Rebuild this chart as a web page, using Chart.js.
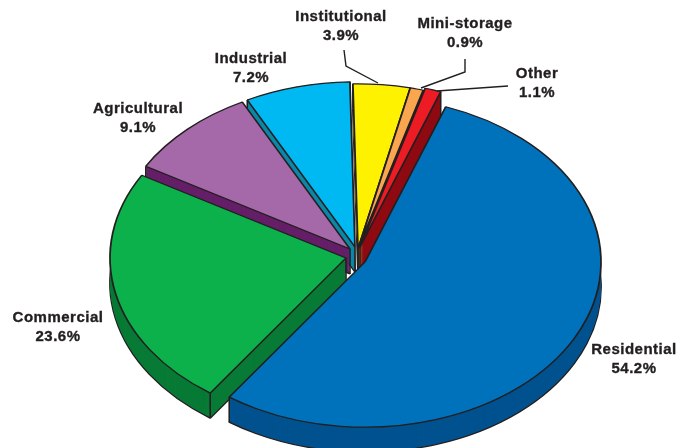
<!DOCTYPE html>
<html>
<head>
<meta charset="utf-8">
<style>
  html, body { margin: 0; padding: 0; background: #fff; }
  #wrap { width: 692px; height: 448px; }
</style>
<script src="https://cdn.jsdelivr.net/npm/chart.js@4"></script>
</head>
<body>
<div id="wrap"><canvas id="pie" width="692" height="448"></canvas></div>
<script>
const categories = ['Residential', 'Commercial', 'Agricultural', 'Industrial', 'Institutional', 'Mini-storage', 'Other'];
const shares = [54.2, 23.6, 9.1, 7.2, 3.9, 0.9, 1.1];
const topColors = ['#0072bc', '#0db14b', '#a569a9', '#00b9f2', '#fff200', '#f9a64f', '#ed1c24'];
const sideColors = ['#00528f', '#077a35', '#651f68', '#0b87a8', '#a89f00', '#b5742e', '#8f0a12'];
// how far each slice is pulled out of the pie, in screen pixels
const pullX = [13, -6, -2, 3, 6, 6, 8];
const pullY = [2, -2, -11, -13, -11, -11, -13];

// back of the pie first, so nearer slices hide the walls behind them
const drawOrder = [4, 5, 6, 3, 2, 1, 0];
const labelSpots = [[634, 350], [58, 318], [138, 109], [251, 59], [341, 17], [465, 24], [537, 74]];
const leaders = [
    [[344, 50], [346, 66], [378, 83]],
    [[465, 59], [465, 72], [421, 88]],
    [[508, 86], [437, 91]]
];

const squash = 0.7;
const depth = 25;
const pivot = { x: 352, y: 260 };
const ink = '#231f20';

function drawWith(arc, ctx, overrides) {
    const base = arc.options;
    arc.options = Object.assign({}, base, overrides);
    arc.draw(ctx);
    arc.options = base;
}

function place(ctx, arc, i, dy) {
    ctx.translate(pivot.x + pullX[i], pivot.y + pullY[i] + dy);
    ctx.scale(1, squash);
    ctx.translate(-arc.x, -arc.y);
}

function wallEdges(ctx, arc, i) {
    const r = arc.outerRadius;
    const x0 = pivot.x + pullX[i];
    const y0 = pivot.y + pullY[i];
    ctx.strokeStyle = ink;
    ctx.lineWidth = 1.6;
    [[0, 0],
     [Math.cos(arc.startAngle) * r, Math.sin(arc.startAngle) * r * squash],
     [Math.cos(arc.endAngle) * r, Math.sin(arc.endAngle) * r * squash]
    ].forEach(c => {
        ctx.beginPath();
        ctx.moveTo(x0 + c[0], y0 + c[1]);
        ctx.lineTo(x0 + c[0], y0 + c[1] + depth);
        ctx.stroke();
    });
}

const pie3d = {
    id: 'pie3d',
    beforeDatasetsDraw(chart) {
        const ctx = chart.ctx;
        const arcs = chart.getDatasetMeta(0).data;
        drawOrder.forEach(i => {
            const arc = arcs[i];
            ctx.save();
            place(ctx, arc, i, depth);
            drawWith(arc, ctx, { backgroundColor: sideColors[i] });
            ctx.restore();
            for (let d = depth - 1; d > 0; d--) {
                ctx.save();
                place(ctx, arc, i, d);
                drawWith(arc, ctx, { backgroundColor: sideColors[i], borderWidth: 0 });
                ctx.restore();
            }
            wallEdges(ctx, arc, i);
            ctx.save();
            place(ctx, arc, i, 0);
            arc.draw(ctx);
            ctx.restore();
        });
        return false;
    },
    afterDraw(chart) {
        const ctx = chart.ctx;
        ctx.save();
        ctx.strokeStyle = ink;
        ctx.lineWidth = 1.4;
        leaders.forEach(pts => {
            ctx.beginPath();
            pts.forEach((p, k) => k ? ctx.lineTo(p[0], p[1]) : ctx.moveTo(p[0], p[1]));
            ctx.stroke();
        });
        ctx.fillStyle = ink;
        ctx.lineWidth = 0.35;
        ctx.font = 'bold 15px "Liberation Sans", Arial, sans-serif';
        ctx.letterSpacing = '0.5px';
        ctx.textAlign = 'center';
        ctx.textBaseline = 'middle';
        categories.forEach((name, i) => {
            const spot = labelSpots[i];
            const pct = shares[i].toFixed(1) + '%';
            ctx.fillText(name, spot[0], spot[1]);
            ctx.strokeText(name, spot[0], spot[1]);
            ctx.fillText(pct, spot[0], spot[1] + 19);
            ctx.strokeText(pct, spot[0], spot[1] + 19);
        });
        ctx.restore();
    }
};

new Chart(document.getElementById('pie'), {
    type: 'pie',
    data: {
        labels: categories,
        datasets: [{
            data: shares,
            backgroundColor: topColors,
            borderColor: ink,
            borderWidth: 1.8
        }]
    },
    options: {
        responsive: false,
        animation: false,
        rotation: 20,
        radius: 236,
        layout: { padding: 0 },
        plugins: { legend: { display: false }, tooltip: { enabled: false } }
    },
    plugins: [pie3d]
});
</script>
</body>
</html>
